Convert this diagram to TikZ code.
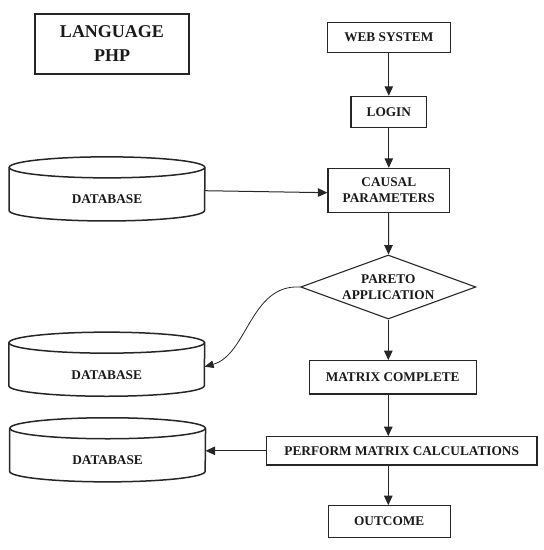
\documentclass[tikz,border=0pt]{standalone}
\usepackage{fontspec}
\setmainfont{Liberation Serif}
\usepackage{tikz}
\usetikzlibrary{arrows.meta,shapes.geometric}

\begin{document}
\begin{tikzpicture}[x=1pt,y=1pt,
  box/.style={draw=black!85, line width=1.1pt, inner sep=0pt, align=center},
  dbbody/.style={inner sep=0pt, minimum width=195.5, minimum height=42.7},
  arr/.style={draw=black!85, line width=1pt, -{Triangle[length=9.5pt,width=8.5pt]}}]
\tikzstyle{every node}+=[font=\bfseries\fontsize{13.3}{16}\selectfont, text=black!90]
\useasboundingbox (0,0) rectangle (544,-550);
% title
\node [box, line width=2pt, minimum width=154, minimum height=60,
  font=\bfseries\fontsize{18}{24}\selectfont] (lang) at (112,-44) {LANGUAGE\\PHP};
% main flow
\node [box, minimum width=123.3, minimum height=30.7] (web) at (388.8,-37.4) {WEB SYSTEM};
\node [box, minimum width=75.7, minimum height=31] (login) at (388.8,-111.8) {LOGIN};
\node [box, minimum width=121.7, minimum height=43.7] (causal) at (388.8,-190.2) {CAUSAL\\PARAMETERS};
\node [box, diamond, aspect=2.74, minimum width=175.2, minimum height=64,
  font=\bfseries\fontsize{13.3}{15.4}\selectfont] (pareto) at (388.3,-287) {PARETO\\APPLICATION};
\node [box, minimum width=166.7, minimum height=33.3] (matrix) at (392.7,-377.3) {MATRIX COMPLETE};
\node [box, minimum width=270.5, minimum height=28.3] (perform) at (401.7,-450.8) {PERFORM MATRIX CALCULATIONS};
\node [box, minimum width=122.3, minimum height=31.6] (outcome) at (389.2,-521.5) {OUTCOME};
% databases
\node [dbbody] (db1) at (107,-199.4) {DATABASE};
\node [dbbody] (db2) at (106.7,-374.7) {DATABASE};
\node [dbbody] (db3) at (107.6,-460.3) {DATABASE};
\foreach \d in {db1,db2,db3} {
  \draw [black!85, line width=1.5pt] ([yshift=10.5pt]\d.north) ellipse [x radius=97.75pt, y radius=10.5pt];
  \draw [black!85, line width=1.5pt] ([yshift=10.5pt]\d.north west) -- ([yshift=10.5pt]\d.south west)
    arc [start angle=180, end angle=360, x radius=97.75pt, y radius=10.5pt] -- ([yshift=10.5pt]\d.north east);
}
% connectors
\draw [arr] (web) -- (login);
\draw [arr] (login) -- (causal);
\draw [arr] ([yshift=8.7pt]db1.east) -- ([yshift=-2.5pt]causal.west);
\draw [arr] (causal) -- (pareto);
\draw [arr, line width=0.8pt, -{Triangle[length=9pt,width=7.5pt]}] (pareto.west)
  .. controls +(-50,3) and +(43,12) .. ([yshift=8pt]db2.east);
\draw [arr] (pareto.south) -- (pareto.south |- matrix.north);
\draw [arr] (matrix.south -| pareto.south) -- (perform.north -| pareto.south);
\draw [arr] (perform.west) -- (perform.west -| db3.east);
\draw [arr] (perform.south -| pareto.south) -- (outcome.north -| pareto.south);
\end{tikzpicture}
\end{document}
